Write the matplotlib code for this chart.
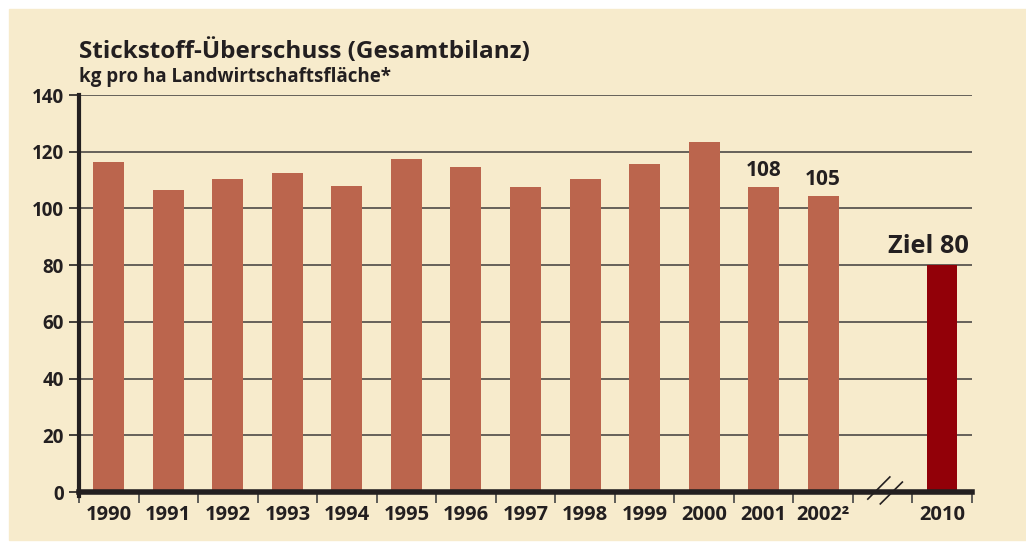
import matplotlib.pyplot as plt
from matplotlib.patches import Rectangle
import numpy as np

plt.rcParams['font.family'] = ['Open Sans', 'DejaVu Sans']
plt.rcParams['font.weight'] = 'bold'

# data
years = ["1990", "1991", "1992", "1993", "1994", "1995", "1996",
         "1997", "1998", "1999", "2000", "2001", "2002²"]
surplus = [116.5, 106.5, 110.5, 112.5, 108, 117.5, 114.5,
           107.5, 110.5, 115.5, 123.5, 107.5, 104.5]
labelled = {"2001": 108, "2002": 105}
target_year = "2010"
target_value = 80

bar_color = "#bb654d"
target_color = "#920008"
ink = "#231f20"
bg = "#f7ebcc"

fig = plt.figure(figsize=(10.26, 5.43), dpi=100)
fig.patches.append(Rectangle((9 / 1026, 0.005), 1, 1 - 9 / 543 - 0.005,
                             transform=fig.transFigure, color=bg, zorder=-10))

ax = fig.add_axes([79 / 1026, 51 / 543, 893 / 1026, 397 / 543])
ax.set_facecolor("none")

x = np.arange(len(years))
x_target = len(years) + 1
ax.bar(x, surplus, width=0.52, color=bar_color, zorder=3)
ax.bar([x_target], [target_value], width=0.5, color=target_color, zorder=3)

for yv in range(20, 141, 20):
    ax.axhline(yv, color="#3f3b3b", lw=1.1, zorder=1)

ax.set_xlim(-0.5, x_target + 0.5)
ax.set_ylim(0, 140)
ax.set_yticks(range(0, 141, 20))
ax.tick_params(axis="y", length=7, width=1.2, color=ink, pad=4,
               labelsize=13.5, labelcolor=ink)

ax.set_xticks(list(x) + [x_target])
ax.set_xticklabels(years + [target_year], fontsize=14.5, color=ink, fontweight="bold")
ax.tick_params(axis="x", length=0, pad=9)
ax.set_xticks(np.arange(-0.5, x_target + 1, 1.0), minor=True)
ax.tick_params(axis="x", which="minor", length=8, width=1.2, color="#444", direction="out")

for s in ["top", "right"]:
    ax.spines[s].set_visible(False)
ax.spines["left"].set_linewidth(3)
ax.spines["left"].set_color(ink)
ax.spines["bottom"].set_linewidth(4)
ax.spines["bottom"].set_color(ink)
ax.spines["left"].set_bounds(-1.5, 140)
ax.spines["left"].set_zorder(5)
ax.spines["bottom"].set_zorder(5)

# axis break marks
ax.plot([12.75, 13.12], [-2.5, 5.3], color=ink, lw=1.2, clip_on=False, zorder=6)
ax.plot([12.96, 13.33], [-4.2, 3.5], color=ink, lw=1.2, clip_on=False, zorder=6)

# value labels
ax.text(11, 108 + 1.5, str(labelled["2001"]), ha="center", va="bottom",
        fontsize=15, fontweight="bold", color=ink)
ax.text(12, 105 + 1.5, str(labelled["2002"]), ha="center", va="bottom",
        fontsize=15, fontweight="bold", color=ink)
ax.text(x_target + 0.45, target_value + 2.0, "Ziel %d" % target_value, ha="right",
        va="bottom", fontsize=18.3, fontweight="bold", color=ink)

fig.text(79 / 1026, 1 - 58 / 543, "Stickstoff-Überschuss (Gesamtbilanz)",
         fontsize=17.5, fontweight="bold", color=ink)
fig.text(79 / 1026, 1 - 82 / 543, "kg pro ha Landwirtschaftsfläche*",
         fontsize=13.5, fontweight="bold", color=ink)

fig.savefig("out.png", dpi=100)
